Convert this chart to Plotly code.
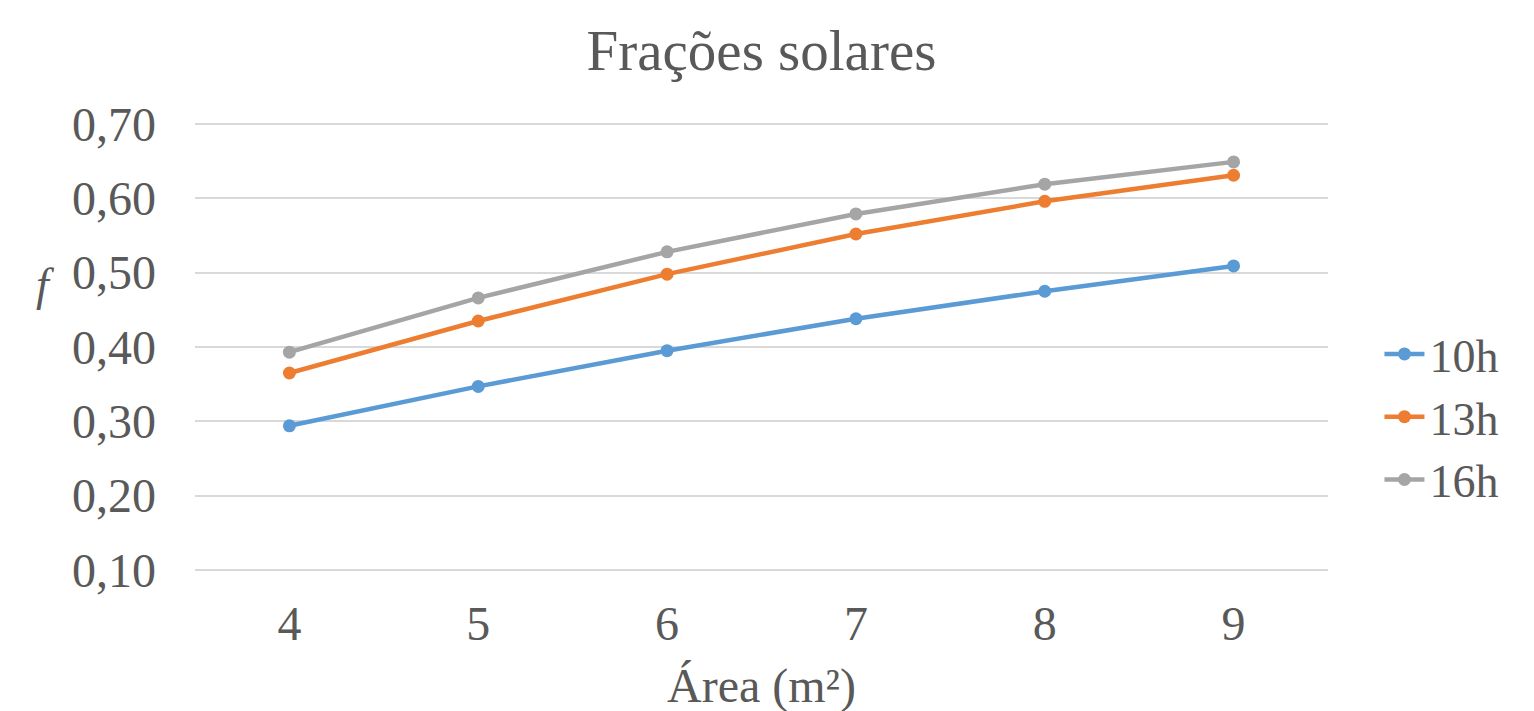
import plotly.graph_objects as go

areas = ["4", "5", "6", "7", "8", "9"]
f_10h = [0.294, 0.347, 0.395, 0.438, 0.475, 0.509]
f_13h = [0.365, 0.435, 0.498, 0.552, 0.596, 0.631]
f_16h = [0.393, 0.466, 0.528, 0.579, 0.619, 0.649]
y_ticks = [0.1, 0.2, 0.3, 0.4, 0.5, 0.6, 0.7]
y_labels = ["0,10", "0,20", "0,30", "0,40", "0,50", "0,60", "0,70"]

series = [("10h", f_10h, "#5b9bd5"), ("13h", f_13h, "#ed7d31"), ("16h", f_16h, "#a5a5a5")]

FONT = "Liberation Serif, Times New Roman, serif"
TXT = "#595959"

# 0.10 and 0.70 positions in figure coordinates (page body adds an 8px offset)
W, H = 1534, 711
L, R = 186.5, 1320.5
Y_TOP_PX, Y_BOT_PX = 116, 562
Y_MIN, Y_MAX = 0.1, 0.7
PAD = 0.004
ppu = (Y_BOT_PX - Y_TOP_PX) / (Y_MAX - Y_MIN)
T = Y_TOP_PX - PAD * ppu
B = Y_BOT_PX + PAD * ppu
PW, PH = R - L, B - T


def py(px):
    return (B - px) / PH


fig = go.Figure()
for name, vals, col in series:
    fig.add_trace(go.Scatter(x=areas, y=vals, name=name, mode="lines+markers",
                             line=dict(color=col, width=4.5),
                             marker=dict(color=col, size=13)))

fig.update_layout(
    width=W, height=H,
    margin=dict(l=L, r=W - R, t=T, b=H - B, autoexpand=False),
    paper_bgcolor="white", plot_bgcolor="white",
    font=dict(family=FONT, color=TXT),
    title=dict(text="Frações solares", x=(L + PW / 2) / W, xanchor="center", y=1 - 42 / H,
               yanchor="middle", yref="container",
               font=dict(size=57, color=TXT, family=FONT)),
    legend=dict(x=(1372 - L) / PW, xanchor="left", y=py(409), yanchor="middle",
                font=dict(size=46, color=TXT, family=FONT),
                tracegroupgap=0, itemwidth=40, bgcolor="rgba(0,0,0,0)"),
    showlegend=True,
)
fig.update_xaxes(type="category", range=[-0.5, 5.5], showgrid=False, showline=False,
                 zeroline=False, ticks="", ticklabelstandoff=18,
                 tickfont=dict(size=48, color=TXT, family=FONT))
fig.update_yaxes(range=[Y_MIN - PAD, Y_MAX + PAD], tickvals=y_ticks, ticktext=y_labels,
                 showgrid=True, gridcolor="#d9d9d9", gridwidth=1.5, zeroline=False,
                 showline=False, ticks="", ticklabelstandoff=38,
                 tickfont=dict(size=48, color=TXT, family=FONT))
fig.add_annotation(text="Área (m²)", xref="paper", yref="paper", x=0.5,
                   y=py(678), xanchor="center", yanchor="middle", showarrow=False,
                   font=dict(size=48, color=TXT, family=FONT))
fig.add_annotation(text="<i>f</i>", xref="paper", yref="paper", x=(37 - L) / PW,
                   y=py(277), xanchor="center", yanchor="middle", showarrow=False,
                   font=dict(size=46, color=TXT, family=FONT))

fig.write_html("out.html")
